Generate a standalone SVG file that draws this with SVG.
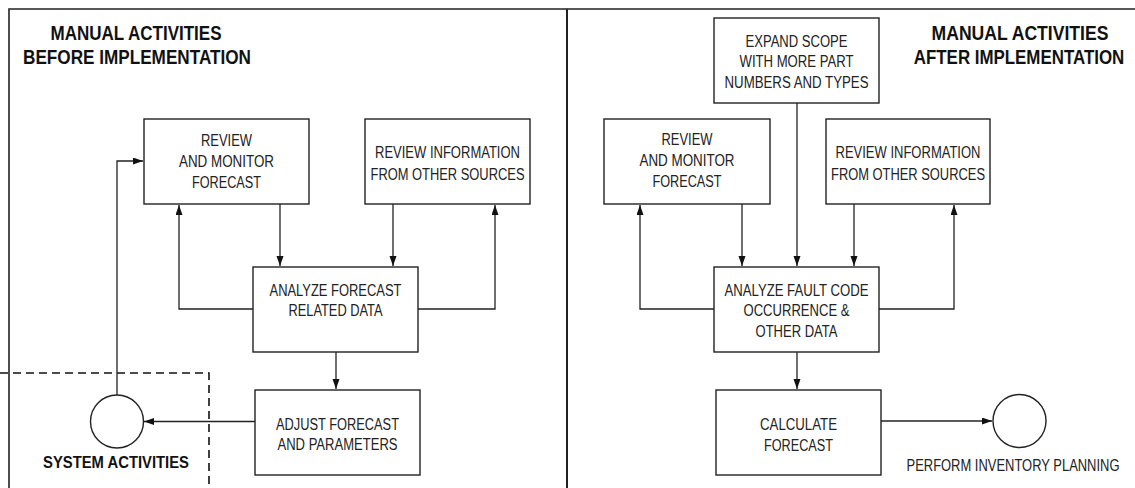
<svg xmlns="http://www.w3.org/2000/svg" width="1135" height="488" viewBox="0 0 1135 488">
<style>
.frame{fill:none;stroke:#222;stroke-width:1.6}
.box{fill:#fff;stroke:#222;stroke-width:1.4}
.ln{fill:none;stroke:#222;stroke-width:1.3}
.dash{fill:none;stroke:#111;stroke-width:1.6;stroke-dasharray:8 5}
.t{font-family:"Liberation Sans",Arial,sans-serif;font-size:16px;fill:#222;text-anchor:middle}
.h{font-family:"Liberation Sans",Arial,sans-serif;font-size:20px;font-weight:bold;fill:#111;text-anchor:middle}
.s{font-family:"Liberation Sans",Arial,sans-serif;font-size:17px;font-weight:bold;fill:#111;text-anchor:middle}
</style>
<defs>
<marker id="ah" markerUnits="userSpaceOnUse" markerWidth="11" markerHeight="8" refX="10" refY="3.5" orient="auto">
<path d="M0,0 L10,3.5 L0,7 z" fill="#111"/>
</marker>
</defs>
<rect width="1135" height="488" fill="#fff"/>

<g id="frame">
<path class="frame" d="M9,488 V9 H1135"/>
<line x1="567" y1="9" x2="567" y2="488" stroke="#222" stroke-width="2"/>
<path class="dash" d="M0,373 H209 V488"/>
<text class="h" x="136" y="40" textLength="171" lengthAdjust="spacingAndGlyphs">MANUAL ACTIVITIES</text>
<text class="h" x="137" y="64" textLength="228" lengthAdjust="spacingAndGlyphs">BEFORE IMPLEMENTATION</text>
<text class="h" transform="translate(1020,40) scale(0.88,1)" x="0" y="0">MANUAL ACTIVITIES</text>
<text class="h" transform="translate(1019,64) scale(0.845,1)" x="0" y="0">AFTER IMPLEMENTATION</text>
</g>

<g id="connectors">
<path class="ln" d="M117,395 V161 H143" marker-end="url(#ah)"/>
<path class="ln" d="M253,309 H179 V205" marker-end="url(#ah)"/>
<path class="ln" d="M418,309 H495 V205" marker-end="url(#ah)"/>
<path class="ln" d="M280,204 V266" marker-end="url(#ah)"/>
<path class="ln" d="M393,204 V266" marker-end="url(#ah)"/>
<path class="ln" d="M336,352 V389" marker-end="url(#ah)"/>
<path class="ln" d="M255,421.5 H144" marker-end="url(#ah)"/>

<path class="ln" d="M714,309 H640 V205" marker-end="url(#ah)"/>
<path class="ln" d="M879,309 H954 V205" marker-end="url(#ah)"/>
<path class="ln" d="M742,204 V266" marker-end="url(#ah)"/>
<path class="ln" d="M797,103 V266" marker-end="url(#ah)"/>
<path class="ln" d="M854,204 V266" marker-end="url(#ah)"/>
<path class="ln" d="M797,352 V389" marker-end="url(#ah)"/>
<path class="ln" d="M881,421 H992" marker-end="url(#ah)"/>
</g>

<g id="review-monitor-before">
<rect class="box" x="144" y="119" width="165" height="85"/>
<text class="t" x="226.5" y="146" textLength="51" lengthAdjust="spacingAndGlyphs">REVIEW</text>
<text class="t" x="226.5" y="167" textLength="95" lengthAdjust="spacingAndGlyphs">AND MONITOR</text>
<text class="t" x="226.5" y="188" textLength="69" lengthAdjust="spacingAndGlyphs">FORECAST</text>
</g>

<g id="review-info-before">
<rect class="box" x="365" y="119" width="165" height="85"/>
<text class="t" x="447.5" y="158" textLength="145" lengthAdjust="spacingAndGlyphs">REVIEW INFORMATION</text>
<text class="t" x="447.5" y="179.5" textLength="154" lengthAdjust="spacingAndGlyphs">FROM OTHER SOURCES</text>
</g>

<g id="analyze-before">
<rect class="box" x="253" y="267" width="165" height="85"/>
<text class="t" x="335.5" y="296" textLength="132" lengthAdjust="spacingAndGlyphs">ANALYZE FORECAST</text>
<text class="t" x="335.5" y="316" textLength="94" lengthAdjust="spacingAndGlyphs">RELATED DATA</text>
</g>

<g id="adjust-before">
<rect class="box" x="255" y="390" width="165" height="85"/>
<text class="t" x="337.5" y="429.5" textLength="123" lengthAdjust="spacingAndGlyphs">ADJUST FORECAST</text>
<text class="t" x="337.5" y="449.5" textLength="120" lengthAdjust="spacingAndGlyphs">AND PARAMETERS</text>
</g>

<g id="system-activities">
<circle class="box" cx="117" cy="421.5" r="26.5"/>
<text class="s" x="116" y="468" textLength="146" lengthAdjust="spacingAndGlyphs">SYSTEM ACTIVITIES</text>
</g>

<g id="expand-scope">
<rect class="box" x="714" y="18" width="165" height="85"/>
<text class="t" x="796.5" y="47" textLength="102" lengthAdjust="spacingAndGlyphs">EXPAND SCOPE</text>
<text class="t" x="796.5" y="67" textLength="114" lengthAdjust="spacingAndGlyphs">WITH MORE PART</text>
<text class="t" x="796.5" y="88" textLength="144" lengthAdjust="spacingAndGlyphs">NUMBERS AND TYPES</text>
</g>

<g id="review-monitor-after">
<rect class="box" x="604" y="119" width="166" height="85"/>
<text class="t" x="687" y="144.5" textLength="51" lengthAdjust="spacingAndGlyphs">REVIEW</text>
<text class="t" x="687" y="165.5" textLength="95" lengthAdjust="spacingAndGlyphs">AND MONITOR</text>
<text class="t" x="687" y="186.5" textLength="69" lengthAdjust="spacingAndGlyphs">FORECAST</text>
</g>

<g id="review-info-after">
<rect class="box" x="826" y="119" width="164" height="85"/>
<text class="t" x="908" y="158" textLength="145" lengthAdjust="spacingAndGlyphs">REVIEW INFORMATION</text>
<text class="t" x="908" y="179.5" textLength="154" lengthAdjust="spacingAndGlyphs">FROM OTHER SOURCES</text>
</g>

<g id="analyze-after">
<rect class="box" x="714" y="267" width="165" height="85"/>
<text class="t" x="796.5" y="295.5" textLength="144" lengthAdjust="spacingAndGlyphs">ANALYZE FAULT CODE</text>
<text class="t" x="796.5" y="316" textLength="106" lengthAdjust="spacingAndGlyphs">OCCURRENCE &amp;</text>
<text class="t" x="796.5" y="337" textLength="82" lengthAdjust="spacingAndGlyphs">OTHER DATA</text>
</g>

<g id="calculate-forecast">
<rect class="box" x="716" y="390" width="165" height="85"/>
<text class="t" x="798.5" y="430" textLength="77" lengthAdjust="spacingAndGlyphs">CALCULATE</text>
<text class="t" x="798.5" y="450.5" textLength="69" lengthAdjust="spacingAndGlyphs">FORECAST</text>
</g>

<g id="inventory-planning">
<circle class="box" cx="1019.5" cy="421" r="26.5"/>
<text class="t" transform="translate(1013,471) scale(0.81,1)" x="0" y="0">PERFORM INVENTORY PLANNING</text>
</g>
</svg>
